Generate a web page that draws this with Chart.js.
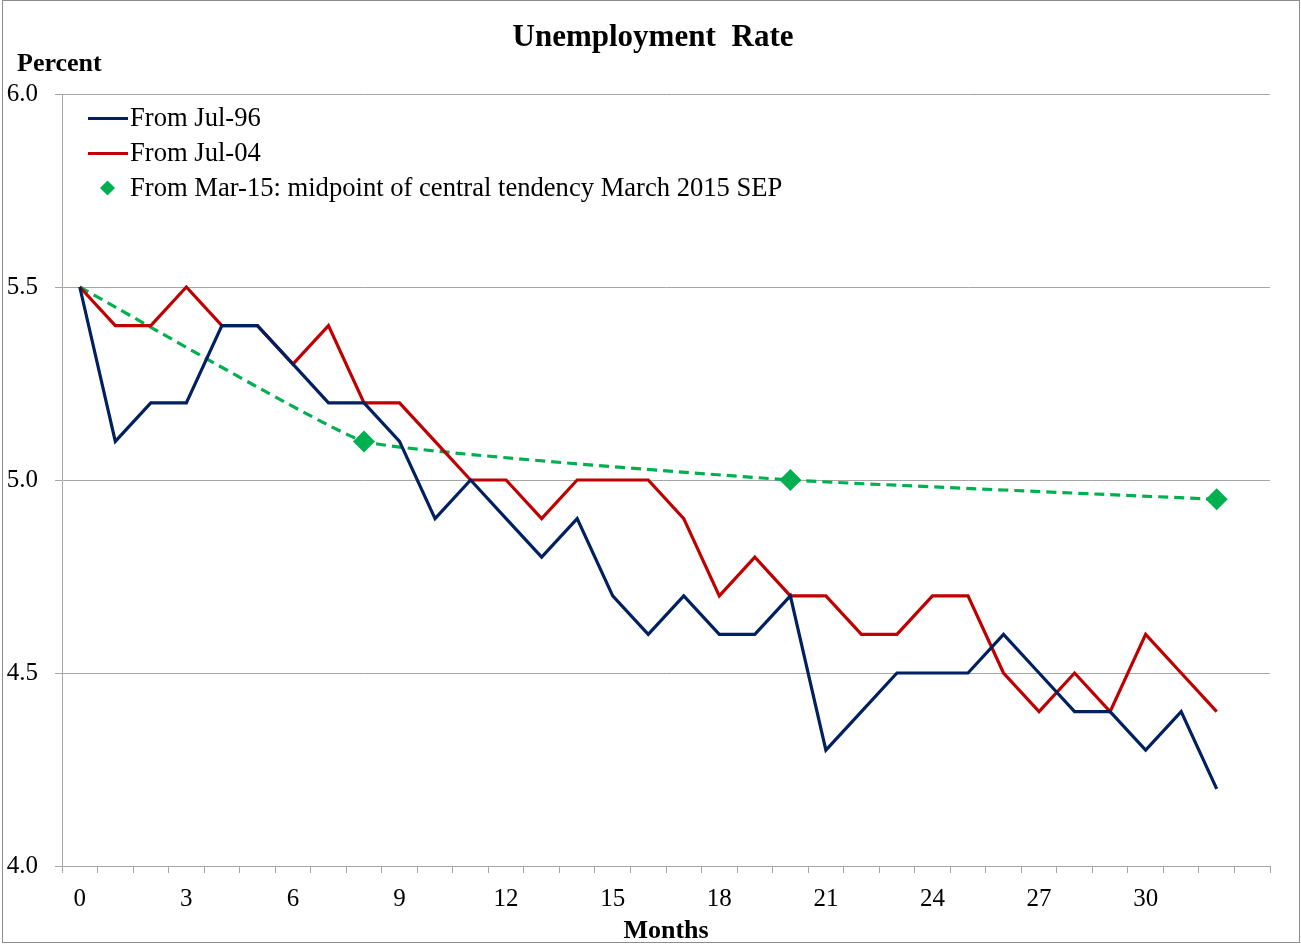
<!DOCTYPE html>
<html>
<head>
<meta charset="utf-8">
<script src="https://cdn.jsdelivr.net/npm/chart.js@4.4.1/dist/chart.umd.min.js"></script>
<style>
  html, body { margin: 0; padding: 0; background: #fff; }
  #wrap { width: 1301px; height: 946px; position: relative; }
</style>
</head>
<body>
<div id="wrap"><canvas id="chart" width="1301" height="946"></canvas></div>
<script>
// months since start
const months = [];
for (let m = 0; m <= 33; m++) months.push(String(m));

const fromJul96 = [5.5, 5.1, 5.2, 5.2, 5.4, 5.4, 5.3, 5.2, 5.2, 5.1, 4.9, 5.0, 4.9, 4.8, 4.9, 4.7, 4.6,
                   4.7, 4.6, 4.6, 4.7, 4.3, 4.4, 4.5, 4.5, 4.5, 4.6, 4.5, 4.4, 4.4, 4.3, 4.4, 4.2];
const fromJul04 = [5.5, 5.4, 5.4, 5.5, 5.4, 5.4, 5.3, 5.4, 5.2, 5.2, 5.1, 5.0, 5.0, 4.9, 5.0, 5.0, 5.0,
                   4.9, 4.7, 4.8, 4.7, 4.7, 4.6, 4.6, 4.7, 4.7, 4.5, 4.4, 4.5, 4.4, 4.6, 4.5, 4.4];
const sepMidpoint = [5.5, null, null, null, null, null, null, null, 5.1, null, null, null, null, null, null, null, null,
                     null, null, null, 5.0, null, null, null, null, null, null, null, null, null, null, null, 4.95];

const seriesNames = ['From Jul-96', 'From Jul-04', 'From Mar-15: midpoint of central tendency March 2015 SEP'];
const yTicks = [4.0, 4.5, 5.0, 5.5, 6.0];

const FONT = "'Liberation Serif', 'Times New Roman', serif";
const BLUE = '#002060', RED = '#C00000', GREEN = '#00B050';

// titles, legend and frame drawn by hand to match the Excel look
const decor = {
  id: 'decor',
  afterDraw(chart) {
    const c = chart.ctx;
    c.save();
    c.fillStyle = '#000';
    c.textBaseline = 'middle';
    c.font = 'bold 31px ' + FONT;
    c.textAlign = 'center';
    c.wordSpacing = '8px';
    c.fillText('Unemployment Rate', 653, 38);
    c.wordSpacing = '0px';
    c.font = 'bold 26px ' + FONT;
    c.textAlign = 'left';
    c.fillText('Percent', 17, 64);

    // legend
    c.font = '26.6px ' + FONT;
    c.lineWidth = 3;
    c.strokeStyle = BLUE;
    c.beginPath(); c.moveTo(88, 118.5); c.lineTo(128, 118.5); c.stroke();
    c.strokeStyle = RED;
    c.beginPath(); c.moveTo(88, 153.5); c.lineTo(128, 153.5); c.stroke();
    c.fillStyle = GREEN;
    c.beginPath();
    c.moveTo(107.5, 180.5); c.lineTo(115, 188); c.lineTo(107.5, 195.5); c.lineTo(100, 188);
    c.closePath(); c.fill();
    c.fillStyle = '#000';
    c.fillText(seriesNames[0], 130, 119);
    c.fillText(seriesNames[1], 130, 154);
    c.fillText(seriesNames[2], 130, 189);

    // outer frame
    c.strokeStyle = '#8c8c8c';
    c.lineWidth = 1;
    c.strokeRect(2.5, 0.5, 1297, 942);
    c.restore();
  }
};

new Chart(document.getElementById('chart'), {
  type: 'line',
  data: {
    labels: months,
    datasets: [
      { label: seriesNames[0], data: fromJul96, borderColor: BLUE, borderWidth: 3.2, pointRadius: 0, tension: 0 },
      { label: seriesNames[1], data: fromJul04, borderColor: RED, borderWidth: 3.2, pointRadius: 0, tension: 0 },
      {
        label: seriesNames[2], data: sepMidpoint, borderColor: GREEN, backgroundColor: GREEN,
        borderWidth: 3.2, borderDash: [10, 6], spanGaps: true, tension: 0.1,
        pointStyle: 'rectRot', pointRadius: ctx => ctx.dataIndex === 0 ? 0 : 11, pointBorderWidth: 0
      }
    ]
  },
  options: {
    responsive: false,
    animation: false,
    layout: { padding: { top: 94, right: 31, left: 0, bottom: 0 } },
    plugins: { legend: { display: false }, title: { display: false }, tooltip: { enabled: false } },
    scales: {
      x: {
        type: 'category',
        offset: true,
        afterFit: s => { s.height = 80; },
        grid: { offset: true, drawOnChartArea: false, drawTicks: true, tickLength: 7, color: '#a6a6a6' },
        border: { color: '#a6a6a6' },
        ticks: {
          autoSkip: false, maxRotation: 0, padding: 11, color: '#000', font: { family: FONT, size: 25 },
          callback: (v, i) => (i % 3 === 0 && i <= 30) ? months[i] : ''
        },
        title: { display: true, text: 'Months', color: '#000', font: { family: FONT, size: 26, weight: 'bold' }, padding: { top: 0, bottom: -1 } }
      },
      y: {
        min: yTicks[0], max: yTicks[yTicks.length - 1],
        afterFit: s => { s.width = 62; },
        afterBuildTicks: s => { s.ticks = yTicks.map(v => ({ value: v })); },
        grid: { color: '#a6a6a6', tickLength: 7 },
        border: { color: '#a6a6a6' },
        ticks: { padding: 17, color: '#000', font: { family: FONT, size: 25 }, callback: v => v.toFixed(1) }
      }
    }
  },
  plugins: [decor]
});
</script>
</body>
</html>
